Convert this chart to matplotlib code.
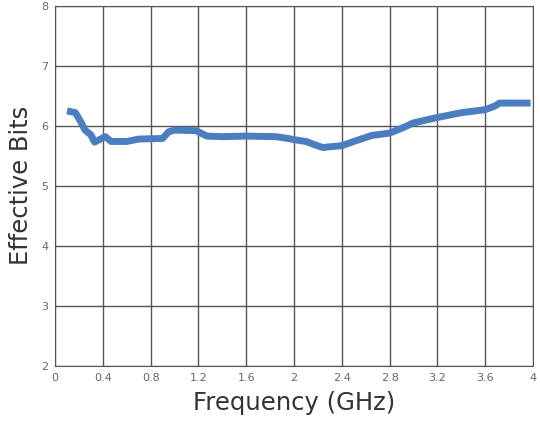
import matplotlib
matplotlib.use("Agg")
import matplotlib.pyplot as plt

freq = [0.1, 0.17, 0.22, 0.25, 0.3, 0.33, 0.38, 0.42, 0.47, 0.6, 0.7, 0.9, 0.95, 1.0, 1.18, 1.27, 1.4, 1.6, 1.85, 1.95, 2.0, 2.1, 2.18, 2.24, 2.4, 2.5, 2.65, 2.8, 2.9, 3.0, 3.2, 3.4, 3.6, 3.68, 3.72, 3.98]
bits = [6.25, 6.22, 6.05, 5.93, 5.85, 5.73, 5.78, 5.82, 5.74, 5.74, 5.78, 5.79, 5.9, 5.93, 5.92, 5.83, 5.82, 5.83, 5.82, 5.79, 5.77, 5.74, 5.68, 5.64, 5.67, 5.74, 5.84, 5.88, 5.96, 6.05, 6.14, 6.22, 6.27, 6.33, 6.38, 6.38]
xticks = [0, 0.4, 0.8, 1.2, 1.6, 2, 2.4, 2.8, 3.2, 3.6, 4]
xticklabels = ["0", "0.4", "0.8", "1.2", "1.6", "2", "2.4", "2.8", "3.2", "3.6", "4"]
yticks = [2, 3, 4, 5, 6, 7, 8]

fig = plt.figure(figsize=(5.4, 4.21), dpi=100)
ax = fig.add_axes([0.102, 0.131, 0.885, 0.855])
ax.plot(freq, bits, color="#4a7ebf", linewidth=5, solid_capstyle="butt")
ax.set_xlim(0, 4)
ax.set_ylim(2, 8)
ax.set_xticks(xticks)
ax.set_xticklabels(xticklabels)
ax.set_yticks(yticks)
ax.grid(True, color="#555555", linewidth=1)
for s in ax.spines.values():
    s.set_color("#555555")
ax.tick_params(length=0, labelsize=8, colors="#666666", pad=5)
ax.set_xlabel("Frequency (GHz)", fontsize=17.5, color="#333333", labelpad=6)
ax.set_ylabel("Effective Bits", fontsize=17.5, color="#333333", labelpad=6)
fig.savefig("out.png", dpi=100)
